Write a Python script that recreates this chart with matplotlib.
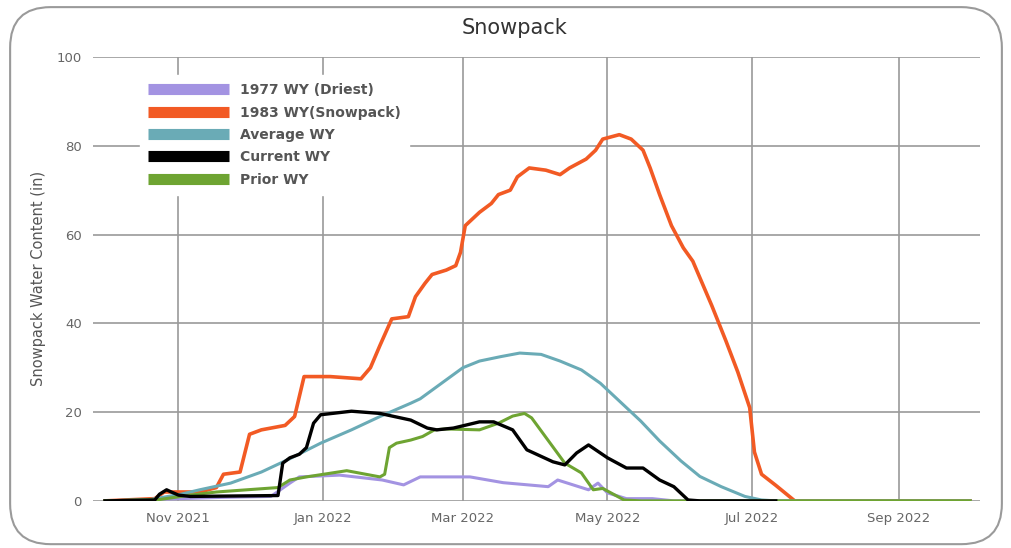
import numpy as np
import matplotlib
matplotlib.use("Agg")
import matplotlib.pyplot as plt
import matplotlib.dates as mdates
from matplotlib.patches import FancyBboxPatch

# days since Oct 1 2021 (water year start) and snow water content (in)
start = np.datetime64("2021-10-01")

dry_days = [0, 50, 70, 78, 82, 99, 117, 126, 133, 154, 168, 187, 191, 204, 208, 212, 220, 231, 240, 365]
dry_vals = [0, 0.8, 1, 4, 5.4, 5.8, 4.7, 3.6, 5.4, 5.4, 4.1, 3.2, 4.7, 2.5, 4, 1.8, 0.5, 0.5, 0, 0]

big_days = [0, 21, 25, 40, 47, 50, 57, 61, 66, 76, 80, 84, 95, 108, 112, 116, 121, 128, 131, 135, 138,
            144, 148, 150, 152, 158, 163, 166, 171, 174, 179, 186, 192, 196, 203, 207, 210, 217, 222,
            227, 230, 234, 239, 244, 248, 252, 256, 262, 267, 272, 274, 277, 283, 291, 365]
big_vals = [0, 0.5, 2, 2, 3, 6, 6.5, 15, 16, 17, 19, 28, 28, 27.5, 30, 35, 41, 41.5, 46, 49, 51,
            52, 53, 56, 62, 65, 67, 69, 70, 73, 75, 74.5, 73.5, 75, 77, 79, 81.5, 82.5, 81.5,
            79, 75, 69, 62, 57, 54, 49, 44, 36, 29, 21, 11, 6, 3.5, 0, 0]

avg_days = [0, 19, 32, 40, 53, 66, 78, 91, 104, 116, 129, 133, 142, 151, 158, 167, 175, 184, 192,
            201, 209, 217, 226, 234, 243, 251, 260, 270, 277, 283, 365]
avg_vals = [0, 0.3, 1.5, 2.5, 4, 6.5, 9.5, 13, 16, 19, 22, 23, 26.5, 30, 31.5, 32.5, 33.3, 33, 31.5,
            29.5, 26.5, 22.5, 18, 13.5, 9, 5.5, 3.2, 1, 0.2, 0, 0]

cur_days = [0, 21, 23, 26, 28, 31, 36, 73, 75, 78, 82, 85, 88, 91, 104, 116, 129, 136, 140, 147,
            158, 164, 172, 178, 189, 194, 199, 204, 212, 220, 227, 234, 240, 246, 251, 283]
cur_vals = [0, 0.2, 1.5, 2.5, 2, 1.3, 1, 1.2, 8.5, 9.7, 10.5, 12, 17.5, 19.4, 20.2, 19.7, 18.2, 16.4, 16, 16.4,
            17.8, 17.8, 16, 11.5, 8.8, 8.1, 10.8, 12.6, 9.7, 7.4, 7.4, 4.7, 3.2, 0.2, 0, 0]

prior_days = [0, 23, 36, 47, 73, 78, 85, 102, 116, 118, 120, 123, 129, 134, 139, 144, 158, 166, 172,
              177, 180, 194, 201, 206, 210, 219, 226, 365]
prior_vals = [0, 0.3, 1.3, 2, 3, 4.7, 5.4, 6.8, 5.4, 6, 12, 13, 13.7, 14.5, 16, 16.2, 16, 17.5, 19.1,
              19.7, 18.7, 8.5, 6.3, 2.5, 2.8, 0.2, 0, 0]

series = [
    ("1977 WY (Driest)", dry_days, dry_vals, "#a393e2", 2.2, 2),
    ("1983 WY(Snowpack)", big_days, big_vals, "#f25a24", 2.6, 2),
    ("Average WY", avg_days, avg_vals, "#6aabb6", 2.2, 2),
    ("Current WY", cur_days, cur_vals, "black", 2.4, 4),
    ("Prior WY", prior_days, prior_vals, "#6ea432", 2.2, 3),
]

fig = plt.figure(figsize=(10.12, 5.48), dpi=100)
ax = fig.add_axes([0.092, 0.086, 0.876, 0.81])

# rounded outer border
border = FancyBboxPatch((0.010, 0.007), 0.98, 0.98, boxstyle="round,pad=0,rounding_size=0.04",
                        transform=fig.transFigure, facecolor="white", edgecolor="#9a9a9a",
                        linewidth=1.5, zorder=-10, mutation_aspect=1012 / 548)
fig.patches.append(border)
ax.set_facecolor("none")

for label, d, v, c, lw, z in series:
    dates = start + np.array(d).astype("timedelta64[D]")
    ax.plot(dates.astype("datetime64[D]").astype(object), v, color=c, lw=lw, label=label,
            solid_joinstyle="round", zorder=z)

ax.set_ylim(0, 100)
ax.set_xlim(start - np.timedelta64(5, "D"), start + np.timedelta64(369, "D"))
ax.set_yticks([0, 20, 40, 60, 80, 100])
ax.xaxis.set_major_locator(mdates.MonthLocator(bymonth=[11, 1, 3, 5, 7, 9]))
ax.xaxis.set_major_formatter(mdates.DateFormatter("%b %Y"))
ax.grid(True, color="#9a9a9a", lw=1.2)
ax.set_axisbelow(True)
for s in ax.spines.values():
    s.set_visible(False)
ax.tick_params(length=0, colors="#666666", labelsize=9.5, pad=8)

ax.set_ylabel("Snowpack Water Content (in)", color="#555555", fontsize=10.5, labelpad=8)
fig.text(0.508, 0.948, "Snowpack", color="#333333", fontsize=15, ha="center", va="center")

leg = ax.legend(loc="upper left", bbox_to_anchor=(0.045, 0.975), frameon=True, fontsize=10,
                handlelength=5.8, handleheight=0.8, labelspacing=0.6, borderpad=0.6)
leg.set_zorder(10)
leg.get_frame().set_facecolor("white")
leg.get_frame().set_edgecolor("white")
leg.get_frame().set_alpha(1)
for t in leg.get_texts():
    t.set_color("#555555")
    t.set_fontweight("bold")
for h in leg.get_lines():
    h.set_linewidth(8)
    h.set_solid_capstyle("butt")

fig.savefig("out.png", dpi=100)
